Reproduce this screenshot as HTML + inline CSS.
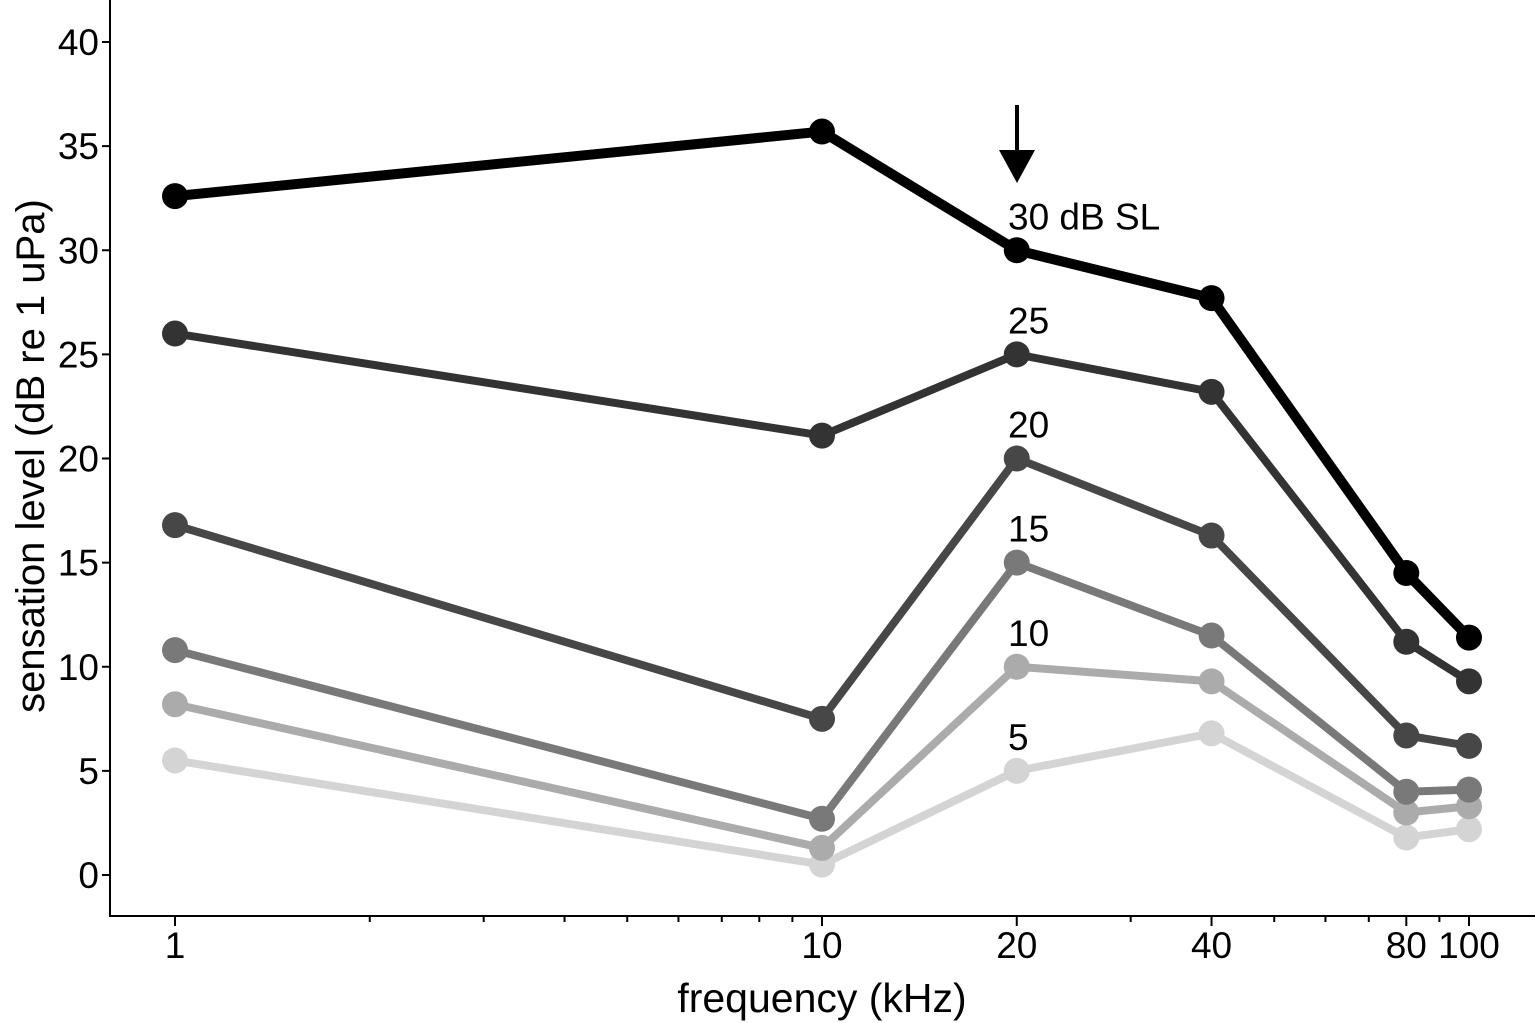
<!DOCTYPE html>
<html><head><meta charset="utf-8"><style>
html,body{margin:0;padding:0;background:#fff}
svg{display:block;font-family:"Liberation Sans",Arial,sans-serif}
</style></head><body>
<svg id="chart" width="1535" height="1023" viewBox="0 0 1535 1023" xmlns="http://www.w3.org/2000/svg"></svg>
<script>
const freqs=[1,10,20,40,80,100];
const seriesNames=["30 dB SL","25","20","15","10","5"];
const s30=[32.6,35.7,30.0,27.7,14.5,11.4];
const s25=[26.0,21.1,25.0,23.2,11.2,9.3];
const s20=[16.8,7.5,20.0,16.3,6.7,6.2];
const s15=[10.8,2.7,15.0,11.5,4.0,4.1];
const s10=[8.2,1.3,10.0,9.3,3.0,3.3];
const s5=[5.5,0.5,5.0,6.8,1.8,2.2];
const yTicks=[0,5,10,15,20,25,30,35,40];
const xTickLabels=[1,10,20,40,80,100];
const xMinor=[2,3,4,5,6,7,8,9,30,50,60,70,90];

const NS="http://www.w3.org/2000/svg";
const svg=document.getElementById('chart');
const X=f=>175+647*Math.log10(f);
const Y=v=>875-v*20.825;
function mk(t,a,p){const e=document.createElementNS(NS,t);for(const k in a)e.setAttribute(k,a[k]);(p||svg).appendChild(e);return e;}

const axes=mk('g',{});


const ya=mk('line',{x1:110,y1:0,x2:110,y2:917,stroke:'#000','stroke-width':2},axes);


const xa=mk('line',{x1:109,y1:916,x2:1535,y2:916,stroke:'#000','stroke-width':2},axes);



yTicks.forEach(v=>{
  mk('line',{x1:102,y1:Y(v),x2:110,y2:Y(v),stroke:'#000','stroke-width':2},axes);
  const t=mk('text',{x:99,y:Y(v)+13,'text-anchor':'end','font-size':37,fill:'#000'},axes);
  t.textContent=v;
  
  
});
xTickLabels.forEach(f=>{
  mk('line',{x1:X(f),y1:916,x2:X(f),y2:926,stroke:'#000','stroke-width':2},axes);
  const t=mk('text',{x:X(f),y:958,'text-anchor':'middle','font-size':37,fill:'#000'},axes);
  t.textContent=f;
  
  
});
xMinor.forEach(f=>{mk('line',{x1:X(f),y1:916,x2:X(f),y2:922,stroke:'#000','stroke-width':2},axes);});

const xt=mk('text',{x:822,y:1012,'text-anchor':'middle','font-size':41,fill:'#000'});
xt.textContent='frequency (kHz)';


const yt=mk('text',{x:0,y:0,'text-anchor':'middle','font-size':40,fill:'#000',transform:'translate(44,456) rotate(-90)'});
yt.textContent='sensation level (dB re 1 uPa)';



const allSeries=[s5,s10,s15,s20,s25,s30];
const colors=['#d4d4d4','#ababab','#797979','#474747','#333333','#000000'];
const widths=[8,8,8,8,8,10];
const labNames=["5","10","15","20","25","30 dB SL"];
allSeries.forEach((s,i)=>{
  const g=mk('g',{});
  
  
  const pts=s.map((v,j)=>X(freqs[j])+','+Y(v)).join(' ');
  mk('polyline',{points:pts,fill:'none',stroke:colors[i],'stroke-width':widths[i],'stroke-linejoin':'round'},g);
  s.forEach((v,j)=>{
    const c=mk('circle',{cx:X(freqs[j]),cy:Y(v),r:13,fill:colors[i]},g);
    
    
  });
  const lt=mk('text',{x:1008,y:Y(s[2])-21,'font-size':37,fill:'#000'},g);
  lt.textContent=labNames[i];
  
  
});

const ar=mk('g',{});


mk('line',{x1:1017,y1:105,x2:1017,y2:160,stroke:'#000','stroke-width':4},ar);
mk('polygon',{points:'999,150 1035,150 1017,183',fill:'#000'},ar);
</script>
</body></html>
